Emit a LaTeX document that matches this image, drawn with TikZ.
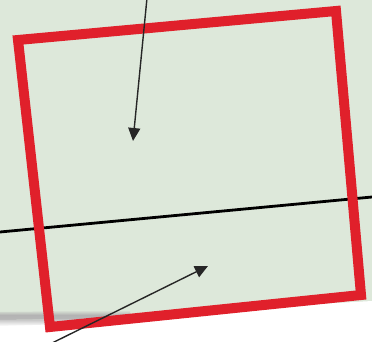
\documentclass[tikz,border=0pt]{standalone}
\usetikzlibrary{arrows.meta}
\definecolor{bggreen}{HTML}{DDE8DA}
\definecolor{boxred}{HTML}{E0202B}
\tikzset{
  redbox/.style={draw=boxred, line width=10pt, line join=miter},
  horizon/.style={draw=black, line width=2.8pt},
  pointer/.style={draw=black!85, line width=1.4pt, -{Triangle[length=13pt,width=12pt]}}
}
\begin{document}
\begin{tikzpicture}[x=1pt,y=-1pt]
\useasboundingbox (0,0) rectangle (372,342);
% background
\fill[bggreen] (0,0) rectangle (372,342);
\fill[white] (0,322) -- (372,301) -- (372,342) -- (0,342) -- cycle;
\shade[top color=bggreen, bottom color=gray!55, middle color=gray!60] (0,312) -- (130,310) -- (130,318) -- (0,320) -- cycle;
\shade[top color=gray!55, bottom color=white] (0,320) -- (130,318) -- (130,322) -- (0,326) -- cycle;
% horizon line
\coordinate (hl) at (0,232);
\coordinate (hr) at (372,197);
\draw[horizon] (hl) -- (hr);
% red box
\coordinate (tl) at (18,40);
\coordinate (tr) at (336,11);
\coordinate (br) at (361,295);
\coordinate (bl) at (50,327);
\draw[redbox] (tl) -- (tr) -- (br) -- (bl) -- cycle;
% arrows
\coordinate (s1) at (147,-2);
\coordinate (e1) at (133,141);
\draw[pointer] (s1) -- (e1);
\coordinate (s2) at (46,346);
\coordinate (e2) at (208,266);
\draw[pointer] (s2) -- (e2);
\end{tikzpicture}
\end{document}
